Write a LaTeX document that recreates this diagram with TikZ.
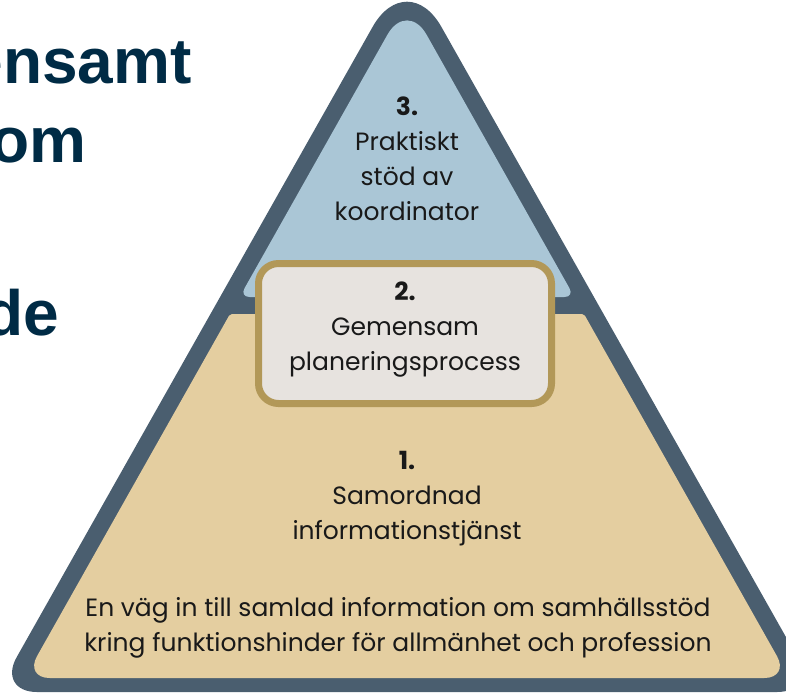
\documentclass[tikz,border=0pt]{standalone}
\usepackage{fontspec}
\setmainfont{Poppins}
\newfontfamily\titlefont{Liberation Sans}
\usetikzlibrary{calc,positioning}

\definecolor{frame}{RGB}{74,94,111}
\definecolor{skyfill}{RGB}{170,198,214}
\definecolor{sandfill}{RGB}{228,206,160}
\definecolor{goldline}{RGB}{178,152,88}
\definecolor{boxfill}{RGB}{231,227,223}
\definecolor{navy}{RGB}{0,43,69}
\definecolor{ink}{RGB}{25,25,25}

\begin{document}
\begin{tikzpicture}[x=1pt,y=-1pt,
layer/.style={font=\fontsize{25}{35}\selectfont, text=ink, align=center, inner sep=0pt},
planbox/.style={draw=goldline, fill=boxfill, line width=7pt, rounded corners=20pt, minimum width=293pt, minimum height=140pt, inner sep=0pt},
heading/.style={font=\fontsize{64}{64}\titlefont\bfseries, text=navy, anchor=base east, inner sep=0pt}]

\useasboundingbox (0,0) rectangle (786,694);

%% corner points of the frame
\coordinate (F-top) at (407,-34);
\coordinate (F-left) at (-3,692);
\coordinate (F-right) at (817,692);

%% corner points of the upper field
\coordinate (U-top) at (407,0);
\coordinate (U-left) at (239.6,297);
\coordinate (U-right) at (574.4,297);

%% corner points of the lower field
\coordinate (L-tl) at (230,314);
\coordinate (L-tr) at (584,314);
\coordinate (L-bl) at (24.7,678);
\coordinate (L-br) at (789.3,678);

%% frame
\fill[frame] ($(F-left)!0.5!(F-right)$) [rounded corners=40pt] -- (F-right)
      -- ($(F-right)!0.5!(F-top)$) [rounded corners=70pt] -- (F-top)
      -- ($(F-top)!0.5!(F-left)$) [rounded corners=40pt] -- (F-left) -- cycle;

%% upper field
\fill[skyfill] ($(U-left)!0.5!(U-right)$) [rounded corners=10pt] -- (U-right)
      -- ($(U-right)!0.5!(U-top)$) [rounded corners=40pt] -- (U-top)
      -- ($(U-top)!0.5!(U-left)$) [rounded corners=10pt] -- (U-left) -- cycle;

%% lower field
\fill[sandfill] ($(L-bl)!0.5!(L-br)$) [rounded corners=25pt] -- (L-br)
      -- ($(L-br)!0.5!(L-tr)$) [rounded corners=2pt] -- (L-tr) -- (L-tl)
      -- ($(L-tl)!0.5!(L-bl)$) [rounded corners=25pt] -- (L-bl) -- cycle;

%% middle box
\node[planbox] (plan) at (405,333.5) {};
\node[layer] (plan-txt) at (405,330) {\textbf{2.}\\Gemensam\\planeringsprocess};

%% texts in the fields
\node[layer] (coord-txt) at (407,159) {\textbf{3.}\\Praktiskt\\stöd av\\koordinator};
\node[layer] (info-txt) at (407,499) {\textbf{1.}\\Samordnad\\informationstjänst};
\node[layer] (note-txt) at (398,628) {En väg in till samlad information om samhällsstöd\\kring funktionshinder för allmänhet och profession};

%% cut heading at the left
\node[heading] (head-1) at (192,83) {ensamt};
\node[heading] (head-2) at (87,162) {om};
\node[heading] (head-3) at (59,335) {de};

\end{tikzpicture}
\end{document}
